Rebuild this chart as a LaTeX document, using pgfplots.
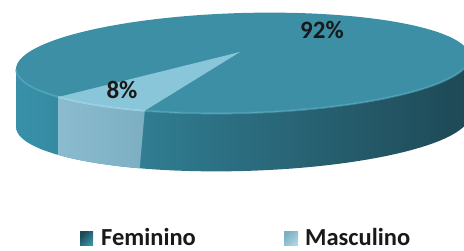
\documentclass[border=0pt]{standalone}
\usepackage{pgfplots}
\pgfplotsset{compat=1.18}
\usepackage{fontspec}
\setmainfont{Carlito}
\definecolor{topF}{HTML}{3D8FA5}
\definecolor{topM}{HTML}{8AC6DA}
\definecolor{sideL}{HTML}{3891A9}
\definecolor{sideMid}{HTML}{2B7283}
\definecolor{sideR}{HTML}{1E4855}
\definecolor{sideM}{HTML}{8ABBCF}
\definecolor{sideM2}{HTML}{7DAFC3}
\definecolor{rimF}{HTML}{55A9BF}
\definecolor{rimM}{HTML}{A8D8E8}
\begin{document}
\begin{tikzpicture}
\pgfmathsetmacro{\pF}{92}
\pgfmathsetmacro{\pM}{8}
\pgfmathsetmacro{\mEnd}{244}
\pgfmathsetmacro{\mStart}{\mEnd-\pM*3.6}
\begin{axis}[scale only axis, width=464pt, height=251pt,
  xmin=0, xmax=464, ymin=0, ymax=251, hide axis, clip=true,
  declare function={
    ex(\t)=243+227*cos(\t)*0.99961-50*sin(\t)*0.02792;
    ey(\t)=188+227*cos(\t)*0.02792+50*sin(\t)*0.99961;
    sx(\s,\a,\b)=(\s<=1) ? ex(\a+(\b-\a)*\s) : ex(\b-(\b-\a)*(\s-1));
    sy(\s,\a,\b)=(\s<=1) ? ey(\a+(\b-\a)*\s) : ey(\b-(\b-\a)*(\s-1))-58;
  }]
% invisible frame
\addplot[draw=none] coordinates {(0,0) (464,251)};
% side of Feminino (front half)
\addplot[draw=none, left color=sideL, middle color=sideMid, right color=sideR,
  domain=0:2, samples=121] ({sx(x,180,360)},{sy(x,180,360)});
% side of Masculino
\addplot[draw=none, left color=sideM, right color=sideM2,
  domain=0:2, samples=41] ({sx(x,\mStart,\mEnd)},{sy(x,\mStart,\mEnd)});
% top face (Feminino)
\addplot[draw=none, fill=topF, domain=0:360, samples=181] ({ex(x)},{ey(x)});
% top wedge (Masculino)
\addplot[draw=none, fill=topM, domain=0:1.04, samples=27]
  ({(x<=1) ? ex(\mStart+(\mEnd-\mStart)*x) : 240},
   {(x<=1) ? ey(\mStart+(\mEnd-\mStart)*x) : 199});
% rim highlights
\addplot[rimF, line width=2pt, opacity=0.6, domain=180:360, samples=91] ({ex(x)},{ey(x)});
\addplot[rimM, line width=2pt, opacity=0.8, domain=\mStart:\mEnd, samples=15] ({ex(x)},{ey(x)});
% labels
\node[font=\bfseries\fontsize{25}{30}\selectfont, text=black!90] at (axis cs:322,221) {92\%};
\node[font=\bfseries\fontsize{25}{30}\selectfont, text=black!90] at (axis cs:122,161) {8\%};
% legend
\fill[left color=sideR, right color=sideL, shading angle=45] (axis cs:80,5) rectangle (axis cs:93,19);
\node[anchor=base west, inner sep=0pt, font=\bfseries\fontsize{24.5}{30}\selectfont, text=black!90] at (axis cs:101,5) {Feminino};
\fill[left color=sideM2, right color=topM!70!white, shading angle=45] (axis cs:284,5) rectangle (axis cs:298,19);
\node[anchor=base west, inner sep=0pt, font=\bfseries\fontsize{24.5}{30}\selectfont, text=black!90] at (axis cs:305,5) {Masculino};
\end{axis}
\end{tikzpicture}
\end{document}
